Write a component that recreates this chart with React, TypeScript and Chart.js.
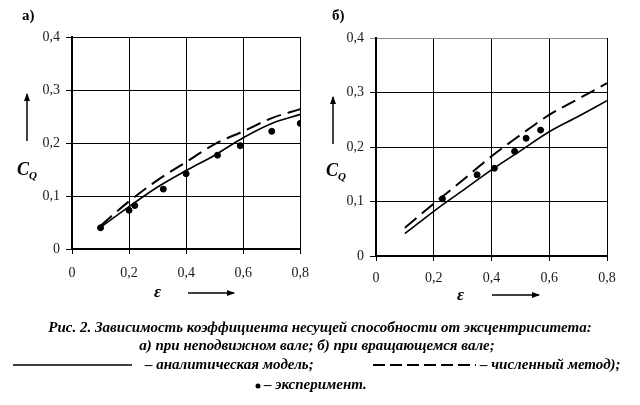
import { useEffect, useRef } from 'react';
import { Chart, registerables } from 'chart.js';

Chart.register(...registerables);

// eccentricity values where the model curves are evaluated
const curveX = [0.1, 0.2, 0.3, 0.4, 0.5, 0.6, 0.7, 0.8];

// panel a) — fixed shaft
const aAnalytic = [0.041, 0.080, 0.117, 0.148, 0.177, 0.210, 0.237, 0.254];
const aNumeric = [0.044, 0.090, 0.130, 0.164, 0.198, 0.222, 0.247, 0.264];
const aExpX = [0.1, 0.2, 0.22, 0.32, 0.4, 0.51, 0.59, 0.7, 0.8];
const aExpY = [0.040, 0.073, 0.082, 0.113, 0.142, 0.177, 0.195, 0.222, 0.237];

// panel б) — rotating shaft
const bAnalytic = [0.041, 0.082, 0.120, 0.158, 0.193, 0.228, 0.256, 0.285];
const bNumeric = [0.052, 0.096, 0.139, 0.183, 0.222, 0.259, 0.288, 0.317];
const bExpX = [0.23, 0.35, 0.41, 0.48, 0.52, 0.57];
const bExpY = [0.105, 0.149, 0.161, 0.192, 0.216, 0.231];

const captionLines = [
  'Рис. 2. Зависимость коэффициента несущей способности от эксцентриситета:',
  'а) при неподвижном вале; б) при вращающемся вале;',
];

const serif = '"Liberation Serif", "Times New Roman", serif';
const fmt = (v: number) => (v === 0 ? '0' : String(Number(v.toFixed(1))).replace('.', ','));

interface PanelProps {
  analytic: number[];
  numeric: number[];
  expX: number[];
  expY: number[];
  left: number;
  yAxisWidth: number;
  xAxisHeight: number;
  rightPad: number;
  top: number;
  yPad: number;
  xPad: number;
  topGridColor: string;
}

function Panel(p: PanelProps) {
  const canvasRef = useRef<HTMLCanvasElement>(null);

  useEffect(() => {
    if (!canvasRef.current) return;
    const chart = new Chart(canvasRef.current, {
      type: 'line',
      data: {
        datasets: [
          {
            label: 'аналитическая модель',
            data: curveX.map((x, i) => ({ x, y: p.analytic[i] })),
            borderColor: '#000',
            borderWidth: 1.6,
            pointRadius: 0,
            cubicInterpolationMode: 'monotone',
          },
          {
            label: 'численный метод',
            data: curveX.map((x, i) => ({ x, y: p.numeric[i] })),
            borderColor: '#000',
            borderWidth: 2,
            borderDash: [15, 7],
            pointRadius: 0,
            cubicInterpolationMode: 'monotone',
          },
          {
            label: 'эксперимент',
            data: p.expX.map((x, i) => ({ x, y: p.expY[i] })),
            showLine: false,
            pointRadius: 3,
            pointBackgroundColor: '#000',
            pointBorderColor: '#000',
          },
        ],
      },
      options: {
        animation: false,
        responsive: false,
        layout: { padding: { top: p.top, right: p.rightPad, left: 0, bottom: 0 } },
        plugins: { legend: { display: false }, tooltip: { enabled: false } },
        scales: {
          x: {
            type: 'linear',
            min: 0,
            max: 0.8,
            afterFit: (s: any) => { s.height = p.xAxisHeight; },
            grid: { color: '#000', lineWidth: 1, tickLength: 5 },
            border: { color: '#000', width: 2 },
            ticks: {
              stepSize: 0.2,
              padding: p.xPad,
              color: '#1a1a1a',
              font: { family: serif, size: 14 },
              callback: (v: any) => fmt(Number(v)),
            },
          },
          y: {
            min: 0,
            max: 0.4,
            afterFit: (s: any) => { s.width = p.yAxisWidth; },
            grid: {
              color: (ctx: any) => (ctx.tick && ctx.tick.value >= 0.4 ? p.topGridColor : '#000'),
              lineWidth: 1,
              tickLength: 6,
            },
            border: { color: '#000', width: 2 },
            ticks: {
              stepSize: 0.1,
              padding: p.yPad,
              color: '#1a1a1a',
              font: { family: serif, size: 14 },
              callback: (v: any) => fmt(Number(v)),
            },
          },
        },
      },
    });
    return () => chart.destroy();
  }, []);

  return (
    <canvas
      ref={canvasRef}
      width={320}
      height={300}
      style={{ position: 'absolute', left: p.left, top: 0, width: 320, height: 300 }}
    />
  );
}

const abs = (left: number, top: number): React.CSSProperties => ({
  position: 'absolute',
  left,
  top,
  whiteSpace: 'nowrap',
  lineHeight: 1,
});

function Cq({ left, top }: { left: number; top: number }) {
  return (
    <div style={{ ...abs(left, top), fontFamily: serif, fontWeight: 'bold', fontStyle: 'italic', fontSize: 18 }}>
      C<sub style={{ fontSize: 11, verticalAlign: -4 }}>Q</sub>
    </div>
  );
}

function Eps({ left, top }: { left: number; top: number }) {
  return (
    <div style={{ ...abs(left, top), fontFamily: serif, fontWeight: 'bold', fontStyle: 'italic', fontSize: 17 }}>
      ε
    </div>
  );
}

export default function App() {
  const capStyle: React.CSSProperties = {
    fontFamily: serif,
    fontWeight: 'bold',
    fontStyle: 'italic',
    fontSize: 15,
  };
  return (
    <div style={{ position: 'absolute', left: 0, top: 0, width: 640, height: 405, background: '#fff' }}>
      <Panel
        analytic={aAnalytic}
        numeric={aNumeric}
        expX={aExpX}
        expY={aExpY}
        left={0}
        yAxisWidth={72}
        xAxisHeight={51}
        rightPad={18}
        top={37}
        yPad={6}
        xPad={11}
        topGridColor="#000"
      />
      <Panel
        analytic={bAnalytic}
        numeric={bNumeric}
        expX={bExpX}
        expY={bExpY}
        left={320}
        yAxisWidth={56}
        xAxisHeight={44}
        rightPad={33}
        top={38}
        yPad={6}
        xPad={9}
        topGridColor="#888"
      />

      <div style={{ ...abs(22, 8), fontFamily: serif, fontWeight: 'bold', fontSize: 15 }}>а)</div>
      <div style={{ ...abs(332, 8), fontFamily: serif, fontWeight: 'bold', fontSize: 15 }}>б)</div>

      <Cq left={17} top={160} />
      <Cq left={326} top={161} />
      <Eps left={154} top={283} />
      <Eps left={457} top={286} />

      <svg width={640} height={405} style={{ position: 'absolute', left: 0, top: 0, pointerEvents: 'none' }}>
        <defs>
          <marker id="ah" markerWidth="8" markerHeight="6" refX="7" refY="3" orient="auto" markerUnits="userSpaceOnUse">
            <path d="M0,0 L8,3 L0,6 Z" fill="#000" />
          </marker>
        </defs>
        <line x1={27} y1={141} x2={27} y2={94} stroke="#000" strokeWidth={1.5} markerEnd="url(#ah)" />
        <line x1={333} y1={144} x2={333} y2={97} stroke="#000" strokeWidth={1.5} markerEnd="url(#ah)" />
        <line x1={188} y1={293} x2={234} y2={293} stroke="#000" strokeWidth={1.5} markerEnd="url(#ah)" />
        <line x1={492} y1={295} x2={539} y2={295} stroke="#000" strokeWidth={1.5} markerEnd="url(#ah)" />
        <line x1={13} y1={365} x2={132} y2={365} stroke="#000" strokeWidth={1.6} />
        <line x1={373} y1={365} x2={476} y2={365} stroke="#000" strokeWidth={2} strokeDasharray="12 5" />
        <circle cx={258} cy={386} r={2.5} fill="#000" />
      </svg>

      <div style={{ ...capStyle, ...abs(0, 320), width: 640, textAlign: 'center' }}>{captionLines[0]}</div>
      <div style={{ ...capStyle, ...abs(0, 338), width: 634, textAlign: 'center' }}>{captionLines[1]}</div>
      <div style={{ ...capStyle, ...abs(145, 357) }}>– аналитическая модель;</div>
      <div style={{ ...capStyle, ...abs(480, 357) }}>– численный метод);</div>
      <div style={{ ...capStyle, ...abs(264, 377) }}>– эксперимент.</div>
    </div>
  );
}
